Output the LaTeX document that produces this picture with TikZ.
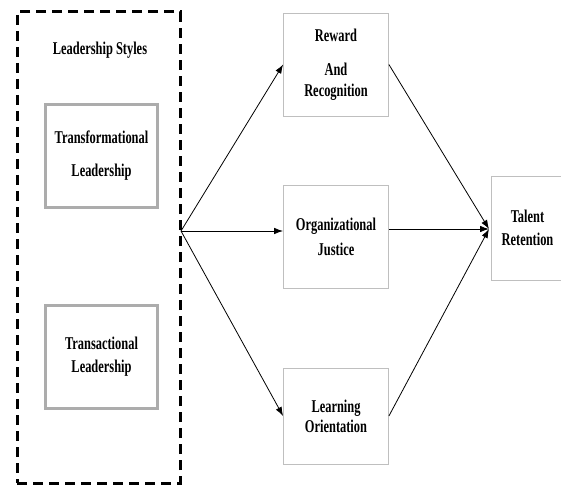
\documentclass[tikz,border=0pt]{standalone}
\usepackage{fontspec}
\setmainfont{Liberation Serif}[FakeStretch=0.69]
\usetikzlibrary{arrows.meta, positioning}
\tikzset{
  group/.style={
    rectangle, draw=black, line width=3pt, dash pattern=on 10pt off 6pt,
    minimum width=163pt, minimum height=471pt, inner sep=0pt
  },
  stylebox/.style={
    rectangle, draw=gray!65, line width=3pt, minimum width=112pt,
    minimum height=103pt, align=center, inner sep=0pt
  },
  factor/.style={
    rectangle, draw=gray!50, line width=0.8pt, minimum width=105pt,
    minimum height=103pt, align=center, inner sep=0pt
  },
  arrow/.style={
    -{Latex[length=9pt,width=6.5pt]}, line width=0.8pt, color=black
  }
}

\begin{document}
\begin{tikzpicture}[x=1pt, y=-1pt,
    every node/.style={font=\fontsize{18}{20}\selectfont\bfseries}]
      \clip (0,0) rectangle (561,486);

      % Leadership styles
      \node[group] (styles) at (98.5,247.5) {};
      \node (title) at (100,50) {Leadership Styles};
      \node[stylebox] (transf) at (101.5,156) {Transformational\\[13pt]Leadership};
      \node[stylebox] (transa) at (101.5,357) {Transactional\\[3pt]Leadership};
      \coordinate (split) at (181,231);

      % Mediators
      \node[factor] (reward) at (336,64.5) {Reward\\[14pt]And\\[1pt]Recognition};
      \node[factor] (justice) at (336,237) {Organizational\\[5pt]Justice};
      \node[factor, minimum height=96pt] (learning) at (336,416) {Learning\\Orientation};

      % Outcome
      \node[factor, minimum width=73pt, minimum height=104pt] (talent) at (527.5,228) {Talent\\[3pt]Retention};
      \coordinate (meet) at (489,229);

      % Arrows
      \draw[arrow] (split) -- (reward.west);
      \draw[arrow] (split) -- (split -| justice.west);
      \draw[arrow] (split) -- (learning.west);
      \draw[arrow] (reward.east) -- (meet);
      \draw[arrow] (meet -| justice.east) -- (meet);
      \draw[arrow] (learning.east) -- (meet);
    \end{tikzpicture}
\end{document}
